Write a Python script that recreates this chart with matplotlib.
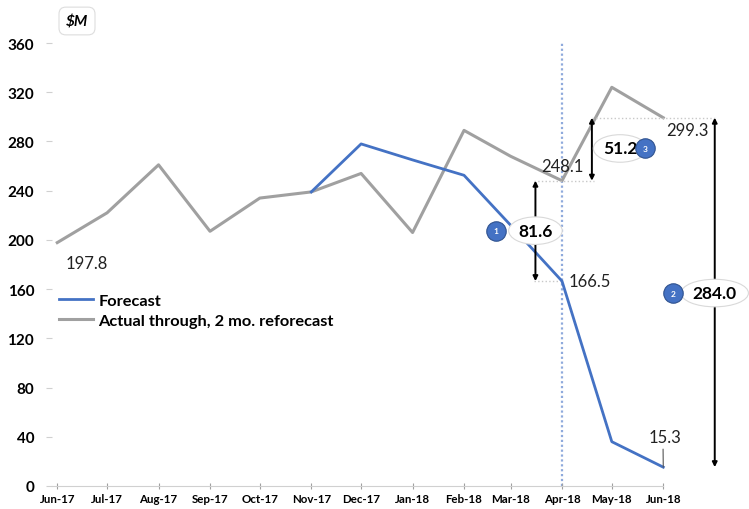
import datetime as dt
import numpy as np
import matplotlib
matplotlib.use('Agg')
import matplotlib.pyplot as plt
import matplotlib.dates as mdates

plt.rcParams['font.family'] = ['Lato', 'DejaVu Sans']

# data
month_labels = ['Jun-17', 'Jul-17', 'Aug-17', 'Sep-17', 'Oct-17', 'Nov-17', 'Dec-17',
                'Jan-18', 'Feb-18', 'Mar-18', 'Apr-18', 'May-18', 'Jun-18']
months = [dt.datetime.strptime(m, '%b-%y') for m in month_labels]
actual = [197.8, 222, 261, 207, 234, 239, 254, 206, 289, 268, 248.1, 324, 299.3]
forecast = [np.nan, np.nan, np.nan, np.nan, np.nan, 239, 278, 265, 252.5, 212, 166.5, 36, 15.3]

blue = '#4472C4'
grey = '#A0A0A0'
dotc = '#C8C8C8'

fig = plt.figure(figsize=(7.49, 5.10), dpi=100)
ax = fig.add_axes([0.0698, 0.0451, 0.9022, 0.8686])

ax.plot(months, forecast, color=blue, lw=2, label='Forecast', zorder=3)
ax.plot(months, actual, color=grey, lw=2.2, label='Actual through, 2 mo. reforecast', zorder=2)

ax.set_ylim(0, 360)
ax.set_xlim(months[0] - dt.timedelta(days=3), dt.datetime(2018, 7, 10))
ax.set_yticks(range(0, 361, 40))
ax.set_xticks(months)
ax.set_xticklabels(month_labels)
ax.tick_params(axis='y', length=4, color='#D0D0D0', labelsize=11, pad=9)
ax.tick_params(axis='x', length=4, direction='inout', color='#A0A0A0', labelsize=8.3, pad=3)
for lab in ax.get_xticklabels() + ax.get_yticklabels():
    lab.set_fontweight('bold')

for s in ['top', 'right', 'left']:
    ax.spines[s].set_visible(False)
ax.spines['bottom'].set_color('#D0D0D0')
ax.spines['bottom'].set_bounds(mdates.date2num(months[0] - dt.timedelta(days=3)),
                               mdates.date2num(months[-1]))

# vertical marker at Apr-18
ax.axvline(months[10], color='#8FAADC', lw=1.6, ls=(0, (1, 1.2)), zorder=1)

# dotted reference lines
d = dt.datetime
ax.plot([d(2018, 3, 15), d(2018, 4, 20)], [actual[10]] * 2, color=dotc, lw=1, ls=':')
ax.plot([d(2018, 3, 15), months[10]], [forecast[10]] * 2, color=dotc, lw=1, ls=':')
ax.plot([d(2018, 4, 19), d(2018, 7, 3)], [actual[12]] * 2, color=dotc, lw=1, ls=':')

# arrows
def darrow(x, y0, y1):
    ax.annotate('', xy=(x, y0), xytext=(x, y1),
                arrowprops=dict(arrowstyle='<|-|>', color='black', lw=1.4,
                                mutation_scale=7, shrinkA=0, shrinkB=0))

darrow(d(2018, 3, 16), forecast[10], actual[10])
darrow(d(2018, 4, 19), actual[10], actual[12])
darrow(d(2018, 7, 2), forecast[12], actual[12])

box = dict(boxstyle='ellipse,pad=0.1', fc='white', ec='#D9D9D9', lw=0.8)
ax.text(d(2018, 3, 16), 207.5, '81.6', ha='center', va='center', fontsize=12.5,
        fontweight='bold', bbox=box, zorder=5)
ax.text(d(2018, 5, 6), 274.3, '51.2', ha='center', va='center', fontsize=12.5,
        fontweight='bold', bbox=box, zorder=5)
ax.text(d(2018, 7, 2), 156.8, '284.0', ha='center', va='center', fontsize=12.5,
        fontweight='bold', bbox=box, zorder=5)

# numbered bubbles
for x, y, n in [(d(2018, 2, 20), 207.5, '1'), (d(2018, 5, 21), 274.3, '3'),
                (d(2018, 6, 7), 156.8, '2')]:
    ax.plot([x], [y], marker='o', ms=14, mfc=blue, mec='#2F528F', mew=0.8,
            zorder=6, clip_on=False)
    ax.text(x, y, n, ha='center', va='center', fontsize=6, color='white',
            fontweight='bold', zorder=7)

# data labels
lbl = dict(fontsize=12, color='#222222', zorder=4)
ax.annotate('197.8', (months[0], actual[0]), xytext=(6, -9), textcoords='offset points',
            ha='left', va='top', **lbl)
ax.annotate('248.1', (months[10], actual[10]), xytext=(0, 5), textcoords='offset points',
            ha='center', va='bottom', **lbl)
ax.annotate('166.5', (months[10], forecast[10]), xytext=(5, 0), textcoords='offset points',
            ha='left', va='center', **lbl)
ax.annotate('299.3', (months[12], actual[12]), xytext=(2, -3), textcoords='offset points',
            ha='left', va='top', **lbl)
ax.annotate('15.3', (months[12], forecast[12]), xytext=(1, 16), textcoords='offset points',
            ha='center', va='bottom', **lbl,
            arrowprops=dict(arrowstyle='-', color='#555555', lw=0.8,
                            shrinkA=1, shrinkB=0, relpos=(0.45, 0)))

leg = ax.legend(loc='upper left', bbox_to_anchor=(0.0, 0.45), frameon=False,
                fontsize=11.8, handlelength=2.1, handletextpad=0.3, labelspacing=0.35,
                borderaxespad=0)
for t in leg.get_texts():
    t.set_fontweight('bold')

fig.text(77 / 749, 1 - 22 / 510, '$M', ha='center', va='center', fontsize=11,
         fontweight='bold', fontstyle='italic',
         bbox=dict(boxstyle='round,pad=0.45', fc='white', ec='#DDDDDD', lw=0.8))

fig.savefig('out.png', dpi=100)
